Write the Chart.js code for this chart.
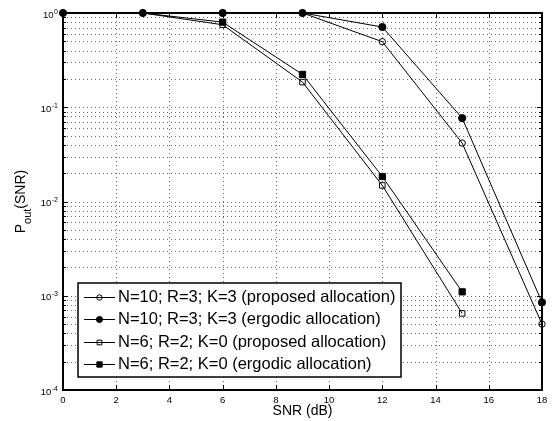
<!DOCTYPE html>
<html><head><meta charset="utf-8">
<script src="https://cdn.jsdelivr.net/npm/chart.js@4/dist/chart.umd.min.js"></script>
<style>html,body{margin:0;padding:0;background:#fff;}#wrap{width:555px;height:421px;position:relative;}</style>
</head><body><div id="wrap"><canvas id="c" width="555" height="421"></canvas></div>
<script>
// ---- data ----
const snrCircles = [0, 3, 6, 9, 12, 15, 18];
const snrSquares = [3, 6, 9, 12, 15];
const poutN10Proposed = [1, 1, 1, 1, 0.496, 0.0417, 5.0e-4];
const poutN10Ergodic  = [1, 1, 1, 1, 0.71, 0.0767, 8.5e-4];
const poutN6Proposed  = [1, 0.75, 0.185, 0.0148, 6.5e-4];
const poutN6Ergodic   = [1, 0.80, 0.223, 0.0184, 1.1e-3];
const seriesLabels = [
  'N=10; R=3; K=3 (proposed allocation)',
  'N=10; R=3; K=3 (ergodic allocation)',
  'N=6; R=2; K=0 (proposed allocation)',
  'N=6; R=2; K=0 (ergodic allocation)'
];
const xTicks = [0, 2, 4, 6, 8, 10, 12, 14, 16, 18];
const yDecades = [-4, -3, -2, -1, 0];
const xTitle = 'SNR (dB)';

const pts = (xs, ys) => xs.map((x, i) => ({x: x, y: ys[i]}));
const FONT = '"Liberation Sans", Arial, Helvetica, sans-serif';

const markerStyles = [
  {style: 'circle', r: 3.2, fill: 'rgba(0,0,0,0)'},
  {style: 'circle', r: 3.6, fill: '#000'},
  {style: 'rect', r: 3.9, fill: 'rgba(0,0,0,0)'},
  {style: 'rect', r: 4.4, fill: '#000'}
];

function drawMarker(ctx, m, x, y, scale) {
  ctx.save();
  ctx.lineWidth = 1; ctx.strokeStyle = '#000'; ctx.fillStyle = m.fill;
  const r = m.r * (scale || 1);
  ctx.beginPath();
  if (m.style === 'circle') { ctx.arc(x, y, r, 0, Math.PI * 2); }
  else { const s = r * Math.SQRT1_2; ctx.rect(x - s, y - s, 2 * s, 2 * s); }
  ctx.fill(); ctx.stroke();
  ctx.restore();
}

function yTickValues() {
  const t = [];
  yDecades.forEach(d => { for (let m = 1; m <= 9; m++) { if (d === 0 && m > 1) break; t.push(m * Math.pow(10, d)); } });
  return t;
}

const decor = {
  id: 'decor',
  beforeDatasetsDraw(chart) {
    const ctx = chart.ctx, a = chart.chartArea, xs = chart.scales.x, ys = chart.scales.y;
    ctx.save();
    ctx.strokeStyle = '#6a6a6a'; ctx.lineWidth = 1; ctx.setLineDash([1, 3]);
    ctx.beginPath();
    xTicks.forEach(v => {
      const px = Math.round(xs.getPixelForValue(v)) + 0.5;
      ctx.moveTo(px, a.top); ctx.lineTo(px, a.bottom);
    });
    yTickValues().forEach(v => {
      const py = Math.round(ys.getPixelForValue(v)) + 0.5;
      ctx.moveTo(a.left, py); ctx.lineTo(a.right, py);
    });
    ctx.stroke();
    ctx.restore();
  },
  afterDatasetsDraw(chart) {
    const ctx = chart.ctx, a = chart.chartArea, xs = chart.scales.x, ys = chart.scales.y;
    ctx.save();
    ctx.strokeStyle = '#000'; ctx.lineWidth = 1;
    ctx.beginPath();
    xTicks.forEach(v => {
      const px = Math.round(xs.getPixelForValue(v)) + 0.5;
      ctx.moveTo(px, a.bottom); ctx.lineTo(px, a.bottom - 5);
      ctx.moveTo(px, a.top); ctx.lineTo(px, a.top + 5);
    });
    yTickValues().forEach(v => {
      const py = Math.round(ys.getPixelForValue(v)) + 0.5;
      const major = Math.abs(Math.log10(v) - Math.round(Math.log10(v))) < 1e-9;
      const L = major ? 5 : 3;
      ctx.moveTo(a.left, py); ctx.lineTo(a.left + L, py);
      ctx.moveTo(a.right, py); ctx.lineTo(a.right - L, py);
    });
    ctx.stroke();
    ctx.lineWidth = 2;
    ctx.strokeRect(a.left, a.top, a.right - a.left, a.bottom - a.top);
    // x tick labels
    ctx.fillStyle = '#000';
    ctx.font = '9.5px ' + FONT; ctx.textAlign = 'center'; ctx.textBaseline = 'middle';
    xTicks.forEach(v => ctx.fillText(String(v), xs.getPixelForValue(v), 400));
    // y tick labels with superscript
    yDecades.forEach(d => {
      const py = ys.getPixelForValue(Math.pow(10, d));
      const sup = String(d);
      ctx.font = '7px ' + FONT; const sw = ctx.measureText(sup).width;
      ctx.font = '9.5px ' + FONT; const bw = ctx.measureText('10').width;
      const right = 58;
      ctx.textAlign = 'left'; ctx.textBaseline = 'alphabetic';
      ctx.fillText('10', right - sw - bw - 0.5, py + 4.5);
      ctx.font = '7px ' + FONT;
      ctx.fillText(sup, right - sw, py + 0.5);
    });
    // x title
    ctx.font = '14px ' + FONT; ctx.textAlign = 'center'; ctx.textBaseline = 'middle';
    ctx.fillText(xTitle, (a.left + a.right) / 2, 411);
    // y title P_out(SNR)
    ctx.save();
    ctx.translate(25, (a.top + a.bottom) / 2);
    ctx.rotate(-Math.PI / 2);
    ctx.textAlign = 'left'; ctx.textBaseline = 'alphabetic';
    ctx.font = '14px ' + FONT; const wP = ctx.measureText('P').width; const wS = ctx.measureText('(SNR)').width;
    ctx.font = '11px ' + FONT; const wO = ctx.measureText('out').width;
    let x0 = -(wP + wO + wS) / 2;
    ctx.font = '14px ' + FONT; ctx.fillText('P', x0, 0);
    ctx.font = '11px ' + FONT; ctx.fillText('out', x0 + wP, 6);
    ctx.font = '14px ' + FONT; ctx.fillText('(SNR)', x0 + wP + wO, 0);
    ctx.restore();
    ctx.restore();
  },
  afterDraw(chart) {
    const ctx = chart.ctx;
    ctx.save();
    const bx = 78, by = 283, bw = 323, bh = 94;
    ctx.fillStyle = '#fff'; ctx.fillRect(bx, by, bw, bh);
    ctx.strokeStyle = '#000'; ctx.lineWidth = 1.5; ctx.strokeRect(bx, by, bw, bh);
    ctx.font = '16.5px ' + FONT; ctx.textAlign = 'left'; ctx.textBaseline = 'middle'; ctx.fillStyle = '#000';
    seriesLabels.forEach((lab, i) => {
      const y = 296.7 + i * 22.5;
      ctx.lineWidth = 1; ctx.strokeStyle = '#000';
      ctx.beginPath(); ctx.moveTo(84, Math.round(y) + 0.5); ctx.lineTo(115, Math.round(y) + 0.5); ctx.stroke();
      drawMarker(ctx, markerStyles[i], 99.5, Math.round(y) + 0.5, 0.85);
      ctx.fillStyle = '#000';
      ctx.fillText(lab, 118, y + 0.5);
    });
    ctx.restore();
  }
};

function ds(i, xs, ys, radii) {
  const m = markerStyles[i];
  return {
    label: seriesLabels[i], data: pts(xs, ys),
    borderColor: '#000', borderWidth: 1, backgroundColor: m.fill,
    pointStyle: m.style, pointRadius: radii || m.r, pointBorderWidth: 1,
    pointBorderColor: '#000', pointBackgroundColor: m.fill,
    tension: 0, clip: false
  };
}

new Chart(document.getElementById('c'), {
  type: 'line',
  data: {
    datasets: [
      ds(0, snrCircles, poutN10Proposed),
      ds(1, snrCircles, poutN10Ergodic),
      ds(2, snrSquares, poutN6Proposed, [0, 3.9, 3.9, 3.9, 3.9]),
      ds(3, snrSquares, poutN6Ergodic, [0, 4.4, 4.4, 4.4, 4.4])
    ]
  },
  options: {
    responsive: false, animation: false, devicePixelRatio: 1,
    layout: {padding: {left: 63, right: 13, top: 13, bottom: 31}},
    plugins: {legend: {display: false}, tooltip: {enabled: false}},
    scales: {
      x: {
        type: 'linear', min: 0, max: 18,
        ticks: {display: false, stepSize: 2},
        grid: {display: false, drawTicks: false},
        border: {display: false}
      },
      y: {
        type: 'logarithmic', min: 1e-4, max: 1,
        ticks: {display: false},
        grid: {display: false, drawTicks: false},
        border: {display: false}
      }
    }
  },
  plugins: [decor]
});
</script>
</body></html>
